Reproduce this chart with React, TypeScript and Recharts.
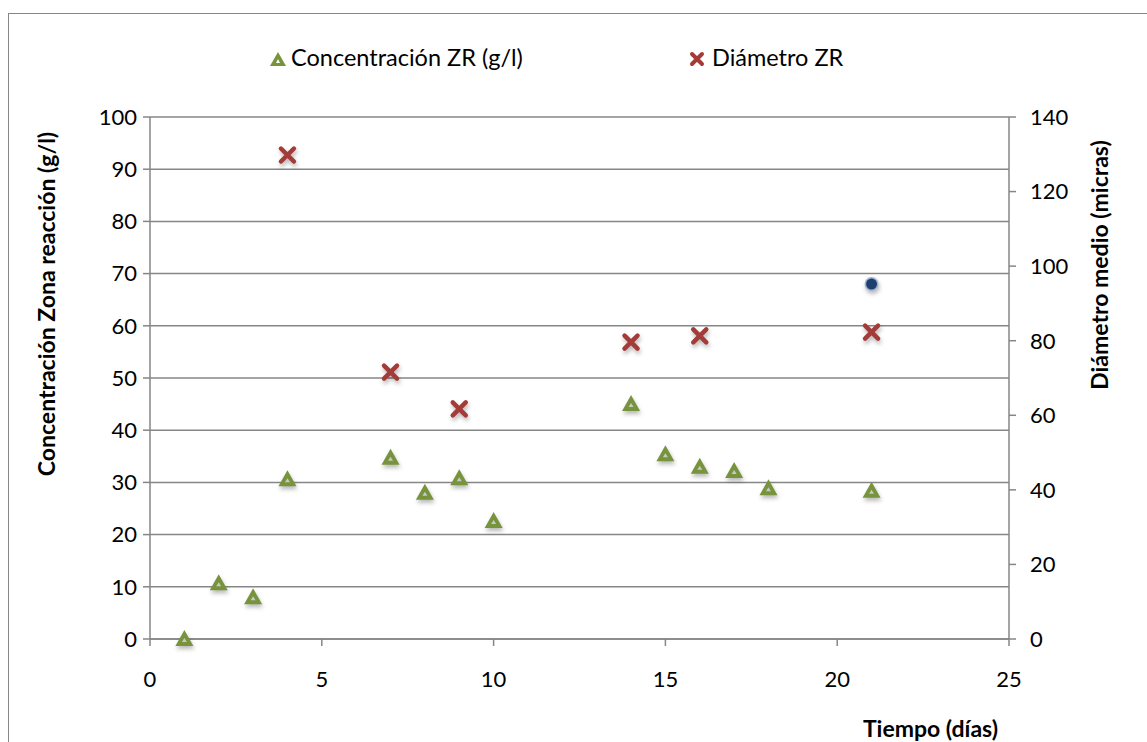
import { ScatterChart, Scatter, XAxis, YAxis, CartesianGrid, Label } from 'recharts';

const dias = [1, 2, 3, 4, 7, 8, 9, 10, 14, 15, 16, 17, 18, 21];
const concentracion = [0, 10.7, 8.0, 30.6, 34.7, 28.0, 30.8, 22.6, 45.0, 35.4, 33.0, 32.2, 28.9, 28.4];

const diasDiametro = [4, 7, 9, 14, 16, 21];
const diametro = [129.8, 71.6, 61.7, 79.6, 81.3, 82.3];

const diasPunto = [21];
const puntoAzul = [68];

const xTicks = [0, 5, 10, 15, 20, 25];
const leftTicks = [0, 10, 20, 30, 40, 50, 60, 70, 80, 90, 100];
const rightTicks = [0, 20, 40, 60, 80, 100, 120, 140];

const concData = dias.map((x, i) => ({ x, y: concentracion[i] }));
const diamData = diasDiametro.map((x, i) => ({ x, y: diametro[i] }));
const puntoData = diasPunto.map((x, i) => ({ x, y: puntoAzul[i] }));

const GREEN = '#77933C';
const RED = '#A33C39';
const AXIS = '#868686';
const FONT = 'Lato, "Open Sans", sans-serif';
const shadow = { filter: 'drop-shadow(1px 3px 2px rgba(0,0,0,0.28))' };

const Triangle = ({ cx, cy }: { cx?: number; cy?: number }) => {
  if (cx == null || cy == null) return null;
  return (
    <g style={shadow}>
      <path d={`M${cx},${cy - 9} L${cx + 9},${cy + 7} L${cx - 9},${cy + 7} Z`} fill={GREEN} />
      <path d={`M${cx},${cy - 1} L${cx + 2.5},${cy + 3} L${cx - 2.5},${cy + 3} Z`} fill="#c8c8c8" />
    </g>
  );
};

const Cross = ({ cx, cy }: { cx?: number; cy?: number }) => {
  if (cx == null || cy == null) return null;
  const r = 6.5;
  return (
    <g style={shadow}>
      <path
        d={`M${cx - r},${cy - r} L${cx + r},${cy + r} M${cx + r},${cy - r} L${cx - r},${cy + r}`}
        stroke={RED}
        strokeWidth={4.5}
        strokeLinecap="round"
      />
    </g>
  );
};

const Dot = ({ cx, cy }: { cx?: number; cy?: number }) => {
  if (cx == null || cy == null) return null;
  return (
    <g style={shadow}>
      <circle cx={cx} cy={cy} r={7} fill="#9fb5d6" />
      <circle cx={cx} cy={cy} r={5.5} fill="#1F3F6E" />
    </g>
  );
};

const tickStyle = { fontSize: 22, fill: '#000', fontFamily: FONT };
const titleStyle = { fontSize: 23, fontWeight: 700, fill: '#000', fontFamily: FONT };

export default function App() {
  return (
    <div style={{ position: 'absolute', left: 0, top: 0, width: 1147, height: 742, background: '#fff', overflow: 'hidden' }}>
      <div style={{ position: 'absolute', left: 8, top: 13, width: 1160, height: 760, border: `1.5px solid ${AXIS}` }} />
      {/* legend */}
      <div style={{ position: 'absolute', top: 43, left: 0, width: 1147, fontFamily: FONT, fontSize: 23.5, color: '#000' }}>
        <svg style={{ position: 'absolute', left: 269, top: 8 }} width={18} height={16}>
          <path d="M9,1 L17,15 L1,15 Z" fill={GREEN} />
          <path d="M9,8 L11,12 L7,12 Z" fill="#fff" />
        </svg>
        <span style={{ position: 'absolute', left: 291, top: 0 }}>Concentración ZR (g/l)</span>
        <svg style={{ position: 'absolute', left: 689, top: 8 }} width={16} height={16}>
          <path d="M3,3 L13,13 M13,3 L3,13" stroke={RED} strokeWidth={4} strokeLinecap="round" />
        </svg>
        <span style={{ position: 'absolute', left: 712, top: 0 }}>Diámetro ZR</span>
      </div>
      <div style={{ position: 'absolute', left: 0, top: 0 }}>
        <ScatterChart width={1147} height={742} margin={{ top: 117, right: 38, bottom: 3, left: 30 }}>
          <CartesianGrid yAxisId="left" vertical={false} stroke={AXIS} strokeWidth={1.5} />
          <XAxis
            type="number"
            dataKey="x"
            domain={[0, 25]}
            ticks={xTicks}
            tick={tickStyle}
            stroke={AXIS}
            strokeWidth={1.5}
            tickSize={7}
            tickMargin={25}
            height={100}
          >
            <Label value="Tiempo (días)" position="insideBottomRight" dx={-6} dy={3} style={titleStyle} />
          </XAxis>
          <YAxis
            yAxisId="left"
            type="number"
            dataKey="y"
            domain={[0, 100]}
            ticks={leftTicks}
            tick={tickStyle}
            stroke={AXIS}
            strokeWidth={1.5}
            tickSize={7}
            tickMargin={6}
            width={120}
          >
            <Label value="Concentración Zona reacción (g/l)" angle={-90} position="insideLeft" dx={12} dy={-74} style={{ ...titleStyle, textAnchor: 'middle' }} />
          </YAxis>
          <YAxis
            yAxisId="right"
            orientation="right"
            type="number"
            dataKey="y"
            domain={[0, 140]}
            ticks={rightTicks}
            tick={{ ...tickStyle, textAnchor: 'start' }}
            stroke={AXIS}
            strokeWidth={1.5}
            tickSize={7}
            tickMargin={14}
            width={100}
          >
            <Label value="Diámetro medio (micras)" angle={-90} position="insideRight" dx={-4} dy={-113} style={{ ...titleStyle, textAnchor: 'middle' }} />
          </YAxis>
          <Scatter yAxisId="left" data={concData} shape={<Triangle />} isAnimationActive={false} />
          <Scatter yAxisId="right" data={diamData} shape={<Cross />} isAnimationActive={false} />
          <Scatter yAxisId="left" data={puntoData} shape={<Dot />} isAnimationActive={false} />
        </ScatterChart>
      </div>
    </div>
  );
}
